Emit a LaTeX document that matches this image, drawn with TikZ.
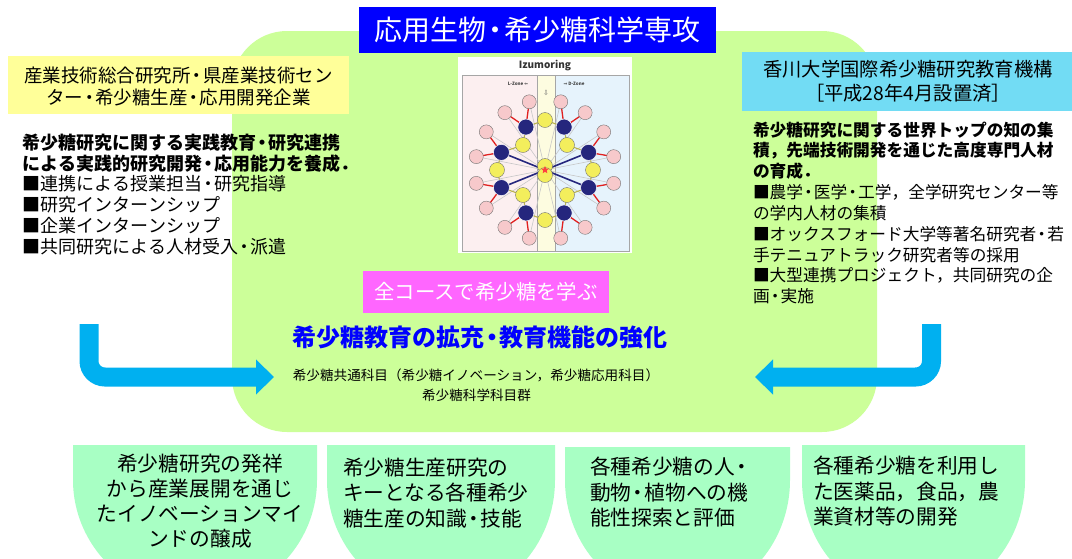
\documentclass[tikz,border=0pt]{standalone}
\usepackage{fontspec}
\setmainfont{Noto Sans CJK JP}
\newfontfamily\symfont{DejaVu Sans}
\usetikzlibrary{arrows.meta,shapes.geometric}

\definecolor{panelgreen}{HTML}{CCFF99}
\definecolor{titleblue}{HTML}{0000FF}
\definecolor{hdryellow}{HTML}{FFFF99}
\definecolor{hdrcyan}{HTML}{72DCF4}
\definecolor{coursepink}{HTML}{FF66FF}
\definecolor{flowblue}{HTML}{00B0F0}
\definecolor{tabgreen}{HTML}{A8FFC4}
\definecolor{izpink}{HTML}{F7C9CB}
\definecolor{iznavy}{HTML}{25267D}
\definecolor{izyellow}{HTML}{F3EE5C}
\definecolor{izzoneL}{HTML}{FCEFF0}
\definecolor{izzoneD}{HTML}{E6F3FC}
\definecolor{izstrip}{HTML}{FDFCE0}
\definecolor{izred}{HTML}{E02020}
\definecolor{izolive}{HTML}{B9B24A}

\newcommand\fsz[1]{\fontsize{#1pt}{#1pt}\selectfont}
\newcommand\fszl[2]{\fontsize{#1pt}{#2pt}\selectfont}
\newcommand\ndot{\makebox[0.65em]{・}}

\begin{document}
\begin{tikzpicture}[x=1pt,y=-1pt,
  lbl/.style={inner sep=0pt,outer sep=0pt},
  box/.style={inner sep=0pt,outer sep=0pt},
  lbody/.style={lbl,anchor=west,font=\fsz{18}},
  lbodyb/.style={lbl,anchor=west,font=\fsz{18}\bfseries},
  rbody/.style={lbl,anchor=west,font=\fsz{16.7}},
  rbodyb/.style={lbl,anchor=west,font=\fsz{16.7}\bfseries},
  tabtxt/.style={lbl,anchor=west,font=\fsz{20.7}},
  tabtxtc/.style={lbl,font=\fsz{20.7}},
  flowarrow/.style={draw=flowblue,line width=19pt,rounded corners=16pt,
    -{Triangle[length=18pt,width=34pt]}},
  pinkc/.style={circle,fill=izpink,draw=black!55,line width=0.4pt,minimum size=14pt,inner sep=0pt},
  navyc/.style={circle,fill=iznavy,draw=white,line width=0.5pt,minimum size=16pt,inner sep=0pt},
  yellowc/.style={circle,fill=izyellow,draw=black!55,line width=0.4pt,minimum size=15pt,inner sep=0pt}
]
\clip (0,0) rectangle (1072,558);
\fill[white] (0,0) rectangle (1072,558);

% central programme panel
\node[box,fill=panelgreen,rounded corners=55pt,minimum width=645pt,minimum height=401pt] (panel) at (554.5,231.5) {};

% programme title
\node[box,fill=titleblue,text=white,minimum width=357pt,minimum height=46pt,font=\fsz{28}] (title) at (537.5,30) {応用生物\ndot 希少糖科学専攻};

% left partner block
\node[box,fill=hdryellow,minimum width=341pt,minimum height=58pt] (lhdr) at (178.5,85) {};
\node[lbl,align=center,font=\fszl{18.5}{22}] (lhdrtxt) at (178.5,87) {産業技術総合研究所\ndot 県産業技術セン\\ター\ndot 希少糖生産\ndot 応用開発企業};
\node[lbodyb] (l1) at (23,142.5) {希少糖研究に関する実践教育\ndot 研究連携};
\node[lbodyb] (l2) at (23,163.3) {による実践的研究開発\ndot 応用能力を養成．};
\node[lbody] (l3) at (23,184.1) {■連携による授業担当\ndot 研究指導};
\node[lbody] (l4) at (23,204.9) {■研究インターンシップ};
\node[lbody] (l5) at (23,225.7) {■企業インターンシップ};
\node[lbody] (l6) at (23,246.5) {■共同研究による人材受入\ndot 派遣};

% right partner block
\node[box,fill=hdrcyan,minimum width=330pt,minimum height=59pt] (rhdr) at (907,81.5) {};
\node[lbl,align=center,font=\fszl{19.3}{23.5}] (rhdrtxt) at (908,81) {香川大学国際希少糖研究教育機構\\［平成28年4月設置済］};
\node[rbodyb] (r1) at (753,130) {希少糖研究に関する世界トップの知の集};
\node[rbodyb] (r2) at (753,150.8) {積，先端技術開発を通じた高度専門人材};
\node[rbodyb] (r3) at (753,171.6) {の育成．};
\node[rbody] (r4) at (753,192.4) {■農学\ndot 医学\ndot 工学，全学研究センター等};
\node[rbody] (r5) at (753,213.2) {の学内人材の集積};
\node[rbody] (r6) at (753,234) {■オックスフォード大学等著名研究者\ndot 若};
\node[rbody] (r7) at (753,254.8) {手テニュアトラック研究者等の採用};
\node[rbody] (r8) at (753,275.6) {■大型連携プロジェクト，共同研究の企};
\node[rbody] (r9) at (753,296.4) {画\ndot 実施};

% Izumoring figure
\node[box,fill=white,minimum width=174pt,minimum height=196pt] (izu) at (545,155) {};
\fill[izzoneL] (462,75) rectangle (537,251);
\fill[izzoneD] (555,75) rectangle (629,251);
\fill[izstrip] (537,75) rectangle (555,251);
\draw[black!35,line width=0.5pt] (462,75) rectangle (629,251) (537,75) -- (537,251) (555,75) -- (555,251);
\node[lbl,font=\fsz{10}\bfseries,text=black!80] (iztitle) at (545,66) {Izumoring};
\node[lbl,font=\fsz{4.5}\bfseries,text=black!75] (izL) at (518,84) {L-Zone {\symfont ⇐}};
\node[lbl,font=\fsz{4.5}\bfseries,text=black!75] (izD) at (574,84) {{\symfont ⇒} D-Zone};
\node[lbl,font=\fsz{7},text=black!60] (izdown) at (546,93) {{\symfont ⇩}};
\begin{scope}[shift={(545,170)}]
  \coordinate (izc) at (0,0);
  \foreach \n [count=\i] in {22,66,114,158,202,246,294,338} {
    \coordinate (nv\i) at (\n:47);
    \coordinate (pa\i) at (\n-11:70);
    \coordinate (pb\i) at (\n+11:70);
  }
  \coordinate (ye1) at (48,0);
  \coordinate (ye2) at (22,25);
  \coordinate (ye3) at (0,50);
  \coordinate (ye4) at (-22,25);
  \coordinate (ye5) at (-48,0);
  \coordinate (ye6) at (-22,-25);
  \coordinate (ye7) at (0,-50);
  \coordinate (ye8) at (22,-25);
  \coordinate (yc1) at (0,-4);
  \coordinate (yc2) at (0,5);
  % light spokes
  \foreach \i in {1,...,8} \draw[black!22,line width=0.6pt] (izc) -- (pa\i) (izc) -- (pb\i);
  % red links to the outer ring
  \foreach \i in {1,...,8} \draw[izred,line width=1.3pt] (nv\i) -- (pa\i) (nv\i) -- (pb\i);
  % olive links between neighbouring ring members
  \draw[izolive,line width=1.1pt] (ye1) -- (nv1) (ye1) -- (nv8)
    (ye2) -- (nv1) (ye2) -- (nv2) (ye3) -- (nv2) (ye3) -- (nv3)
    (ye4) -- (nv3) (ye4) -- (nv4) (ye5) -- (nv4) (ye5) -- (nv5)
    (ye6) -- (nv5) (ye6) -- (nv6) (ye7) -- (nv6) (ye7) -- (nv7)
    (ye8) -- (nv7) (ye8) -- (nv8);
  % dark links through the centre
  \draw[iznavy,line width=1.6pt] (nv4) -- (izc) -- (nv8) (nv5) -- (izc) -- (nv1);
  \foreach \i in {1,...,8} {
    \node[pinkc] (PA\i) at (pa\i) {};
    \node[pinkc] (PB\i) at (pb\i) {};
    \node[navyc] (NV\i) at (nv\i) {};
    \node[yellowc] (YE\i) at (ye\i) {};
  }
  \node[yellowc] (YC1) at (yc1) {};
  \node[yellowc] (YC2) at (yc2) {};
  \node[star,star points=5,star point ratio=2.2,fill=red!75,minimum size=8pt,inner sep=0pt] (izstar) at (0,0) {};
\end{scope}

% shared course banner and outcome
\node[box,fill=coursepink,text=white,minimum width=246pt,minimum height=42pt,font=\fsz{20.4}] (course) at (486,292) {全コースで希少糖を学ぶ};
\node[lbl,text=titleblue,font=\fsz{24}\bfseries] (goal) at (480,337) {希少糖教育の拡充\ndot 教育機能の強化};
\node[lbl,font=\fsz{13.6}] (sub1) at (476,375) {希少糖共通科目（希少糖イノベーション，希少糖応用科目）};
\node[lbl,font=\fsz{13.6}] (sub2) at (476.5,395) {希少糖科学科目群};

% inflow arrows from both partner blocks
\coordinate (lfrom) at (89,324);
\coordinate (lto) at (274,377);
\coordinate (rfrom) at (931.5,324);
\coordinate (rto) at (755,377);
\draw[flowarrow] (lfrom) |- (lto);
\draw[flowarrow] (rfrom) |- (rto);

% outcome tabs
\foreach \l/\r/\t in {73/317/445,327/555/445,565/790/447,802/1025/445} {
  \pgfmathsetmacro\m{(\l+\r)/2}
  \pgfmathsetmacro\k{0.552*(\r-\l)/2}
  \fill[tabgreen] (\l,\t) -- (\l,480) .. controls (\l,546) and (\m-\k,600) .. (\m,600)
    .. controls (\m+\k,600) and (\r,546) .. (\r,480) -- (\r,\t) -- cycle;
}
\node[tabtxtc] (a1) at (200,464) {希少糖研究の発祥};
\node[tabtxtc] (a2) at (200,489) {から産業展開を通じ};
\node[tabtxtc] (a3) at (200,514) {たイノベーションマイ};
\node[tabtxtc] (a4) at (200,539) {ンドの醸成};
\node[tabtxt] (b1) at (343,467.5) {希少糖生産研究の};
\node[tabtxt] (b2) at (343,493) {キーとなる各種希少};
\node[tabtxt] (b3) at (343,518.5) {糖生産の知識\ndot 技能};
\node[tabtxt] (c1) at (590,467) {各種希少糖の人\ndot};
\node[tabtxt] (c2) at (590,492.5) {動物\ndot 植物への機};
\node[tabtxt] (c3) at (590,517.5) {能性探索と評価};
\node[tabtxt] (d1) at (813,466) {各種希少糖を利用し};
\node[tabtxt] (d2) at (813,492) {た医薬品，食品，農};
\node[tabtxt] (d3) at (813,517) {業資材等の開発};
\end{tikzpicture}
\end{document}
